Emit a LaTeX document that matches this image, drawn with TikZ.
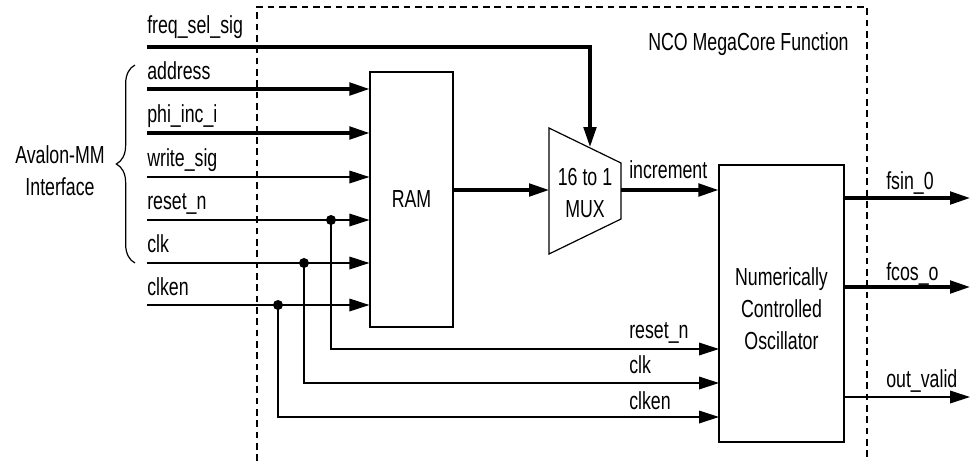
\documentclass[tikz,border=0pt]{standalone}
\usepackage{fontspec}
\setmainfont[FakeStretch=0.72]{Liberation Sans}
\usetikzlibrary{arrows.meta,decorations.pathreplacing}
\begin{document}
\begin{tikzpicture}[x=0.75pt,y=-0.75pt,
  font=\fontsize{18.5pt}{24pt}\selectfont,
  bus/.style={line width=2.3pt},
  wire/.style={line width=0.9pt},
  tip/.style={-{Triangle[length=15pt,width=9.5pt]}},
  blk/.style={draw,line width=0.9pt,rectangle,inner sep=0pt},
  lbl/.style={anchor=base west,inner sep=0pt},
  jdot/.style={circle,fill,inner sep=0pt,minimum size=7.5pt},
  border/.style={line width=0.9pt,dash pattern=on 5pt off 3.5pt}]
\useasboundingbox[fill=white] (0,0) rectangle (975,461);

% enclosing dashed function border
\draw[border] (257,461) -- (257,7) -- (867,7) -- (867,461);
\node[lbl] (title) at (648,50) {NCO MegaCore Function};

% blocks
\node[blk,minimum width=62.25pt,minimum height=191.25pt] (ram) at (411.5,199.5) {RAM};
\node[blk,minimum width=93.75pt,minimum height=207.75pt] (nco) at (781.5,303.5) {};
\node[align=center,inner sep=0pt] (ncotext) at (781.5,309) {Numerically\\Controlled\\Oscillator};
\draw[wire,fill=white] (549,128) -- (621,163) -- (621,219) -- (549,254) -- cycle;
\node[align=center,inner sep=0pt] (mux) at (585,193) {16 to 1\\MUX};
\coordinate (muxin) at (549,190);
\coordinate (muxout) at (621,190);
\coordinate (muxsel) at (590,147);

% input ends
\coordinate (ifreq) at (147,47);
\coordinate (iaddr) at (147,89);
\coordinate (iphi) at (147,133);
\coordinate (iwr) at (147,177);
\coordinate (irst) at (147,220);
\coordinate (iclk) at (147,263);
\coordinate (icken) at (147,305);

% input labels
\node[lbl] (lfreq) at (147,33) {freq\_sel\_sig};
\node[lbl] (laddr) at (147,79) {address};
\node[lbl] (lphi) at (147,122) {phi\_inc\_i};
\node[lbl] (lwr) at (147,166) {write\_sig};
\node[lbl] (lrst) at (147,209) {reset\_n};
\node[lbl] (lclk) at (147,252) {clk};
\node[lbl] (lcken) at (147,295) {clken};

% Avalon brace
\draw[wire,decorate,decoration={brace,amplitude=14pt}] (135,263) -- (135,65);
\node[align=center,inner sep=0pt] (avalon) at (60,171) {Avalon-MM\\Interface};

% input connections
\draw[bus,tip] (ifreq) -| (muxsel);
\draw[bus,tip] (iaddr) -- (ram.west |- iaddr);
\draw[bus,tip] (iphi) -- (ram.west |- iphi);
\draw[wire,tip] (iwr) -- (ram.west |- iwr);
\draw[wire,tip] (irst) -- (ram.west |- irst);
\draw[wire,tip] (iclk) -- (ram.west |- iclk);
\draw[wire,tip] (icken) -- (ram.west |- icken);

% junctions and branches to NCO
\node[jdot] (drst) at (331,220) {};
\node[jdot] (dclk) at (304,263) {};
\node[jdot] (dcken) at (278,305) {};
\coordinate (nrst) at (719,349);
\coordinate (nclk) at (719,383);
\coordinate (ncken) at (719,417);
\draw[wire,tip] (drst.center) |- (nrst);
\draw[wire,tip] (dclk.center) |- (nclk);
\draw[wire,tip] (dcken.center) |- (ncken);
\node[lbl] (lnrst) at (629,338) {reset\_n};
\node[lbl] (lnclk) at (629,373) {clk};
\node[lbl] (lncken) at (629,409) {clken};

% datapath
\draw[bus,tip] (ram.east |- muxin) -- (muxin);
\draw[bus,tip] (muxout) -- (nco.west |- muxout);
\node[lbl] (linc) at (629,178) {increment};

% outputs
\coordinate (osin) at (970,198);
\coordinate (ocos) at (970,287);
\coordinate (oval) at (970,397);
\draw[bus,tip] (nco.east |- osin) -- (osin);
\draw[bus,tip] (nco.east |- ocos) -- (ocos);
\draw[wire,tip] (nco.east |- oval) -- (oval);
\node[lbl] (lsin) at (886,189) {fsin\_0};
\node[lbl] (lcos) at (886,280) {fcos\_o};
\node[lbl] (lval) at (886,387) {out\_valid};
\end{tikzpicture}
\end{document}
